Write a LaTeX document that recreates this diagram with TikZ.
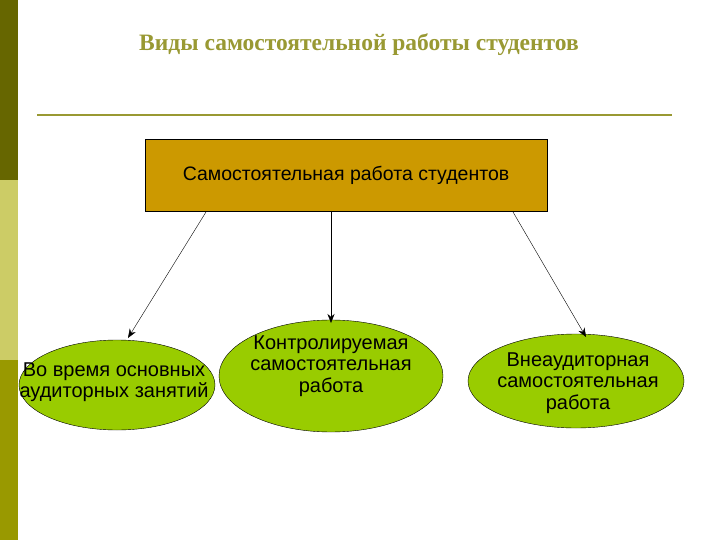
\documentclass[tikz,border=0pt]{standalone}
\usepackage{fontspec}
\setmainfont{Liberation Sans}
\newfontfamily\titlefont{Liberation Serif}
\usetikzlibrary{shapes.geometric,arrows.meta}
\definecolor{olive1}{HTML}{666600}
\definecolor{olive2}{HTML}{CCCC66}
\definecolor{olive3}{HTML}{999900}
\definecolor{titlec}{HTML}{999933}
\definecolor{boxc}{HTML}{CC9900}
\definecolor{ellc}{HTML}{99CC00}
\tikzset{ell/.style={ellipse,draw=black,fill=ellc,inner sep=0pt,align=center,font=\fontsize{20}{21.5}\selectfont},
arr/.style={-{Stealth[length=9pt,width=7pt]},thin}}
\begin{document}
\begin{tikzpicture}[x=1pt,y=-1pt]
\useasboundingbox (0,0) rectangle (720,540);
\fill[white] (0,0) rectangle (720,540);
\fill[olive1] (0,0) rectangle (18,180);
\fill[olive2] (0,180) rectangle (18,360);
\fill[olive3] (0,360) rectangle (18,540);
\node[font=\titlefont\bfseries\fontsize{23.5}{25}\selectfont,text=titlec] (title) at (359,45) {Виды самостоятельной работы студентов};
\draw[titlec,line width=1.2pt] (37,115) -- (672,115);
\node[draw=black,fill=boxc,minimum width=402pt,minimum height=72pt,font=\fontsize{19.5}{21}\selectfont] (top) at (346,175) {Самостоятельная работа студентов};
\node[ell,minimum width=196pt,minimum height=90pt] (l) at (117,385) {};
\node[align=center,font=\fontsize{20}{21.5}\selectfont] (lt) at (114,382) {Во время основных\\аудиторных занятий};
\node[ell,minimum width=224pt,minimum height=112pt] (m) at (331,376) {};
\node[align=center,font=\fontsize{20}{21.5}\selectfont] (mt) at (331,366) {Контролируемая\\самостоятельная\\работа};
\node[ell,minimum width=216pt,minimum height=94pt] (r) at (576,381) {};
\node[align=center,font=\fontsize{20}{21.5}\selectfont] (rt) at (578,383) {Внеаудиторная\\самостоятельная\\работа};
\coordinate (a1) at (206,212); \coordinate (a2) at (331,212); \coordinate (a3) at (513,212);
\coordinate (b1) at (128,338); \coordinate (b2) at (331,323); \coordinate (b3) at (586,337);
\draw[arr] (a1) -- (b1);
\draw[arr] (a2) -- (b2);
\draw[arr] (a3) -- (b3);
\end{tikzpicture}
\end{document}
